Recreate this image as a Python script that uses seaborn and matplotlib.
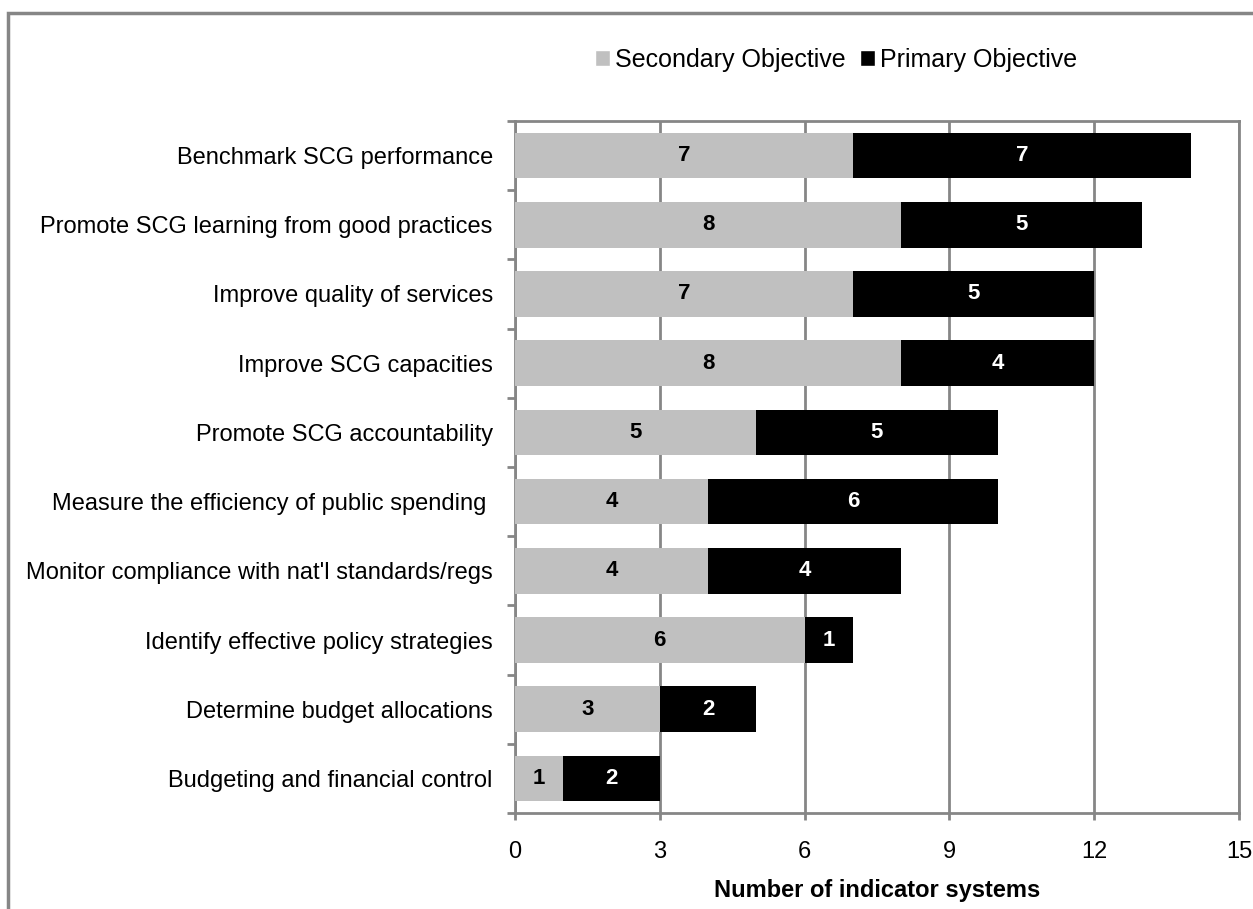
import matplotlib
matplotlib.use("Agg")
import matplotlib.pyplot as plt
import seaborn as sns
import pandas as pd
import numpy as np
from matplotlib.patches import Patch, Rectangle

categories = [
    "Benchmark SCG performance",
    "Promote SCG learning from good practices",
    "Improve quality of services",
    "Improve SCG capacities",
    "Promote SCG accountability",
    "Measure the efficiency of public spending ",
    "Monitor compliance with nat'l standards/regs",
    "Identify effective policy strategies",
    "Determine budget allocations",
    "Budgeting and financial control",
]
secondary = [7, 8, 7, 8, 5, 4, 4, 6, 3, 1]
primary = [7, 5, 5, 4, 5, 6, 4, 1, 2, 2]
x_ticks = [0, 3, 6, 9, 12, 15]

df = pd.DataFrame({"objective": categories, "secondary": secondary, "primary": primary})
df["total"] = df["secondary"] + df["primary"]

sns.set_style("white")
plt.rcParams["font.family"] = ["Liberation Sans", "DejaVu Sans"]
plt.rcParams["text.color"] = "black"
plt.rcParams["xtick.color"] = "black"
plt.rcParams["ytick.color"] = "black"
plt.rcParams["axes.labelcolor"] = "black"

grid_col = "#868686"
fig = plt.figure(figsize=(12.53, 9.09), dpi=100)
ax = fig.add_axes([515 / 1253, 1 - 813 / 909, (1239 - 515) / 1253, (813 - 121) / 909])

sns.barplot(data=df, y="objective", x="total", color="black", orient="h",
            width=0.66, ax=ax, saturation=1, zorder=3, linewidth=0)
sns.barplot(data=df, y="objective", x="secondary", color="#C0C0C0", orient="h",
            width=0.66, ax=ax, saturation=1, zorder=3, linewidth=0)

for i, (s, p) in enumerate(zip(secondary, primary)):
    ax.text(s / 2, i, str(s), ha="center", va="center", fontsize=16,
            fontweight="bold", color="black", zorder=4)
    ax.text(s + p / 2, i, str(p), ha="center", va="center", fontsize=16,
            fontweight="bold", color="white", zorder=4)

ax.set_xlim(0, 15)
ax.set_ylim(9.5, -0.5)
ax.set_xticks(x_ticks)
ax.set_xticklabels([str(t) for t in x_ticks], fontsize=17)
ax.xaxis.grid(True, color=grid_col, linewidth=2, zorder=0)
ax.set_axisbelow(True)
for sp in ax.spines.values():
    sp.set_visible(True)
    sp.set_color(grid_col)
    sp.set_linewidth(2)

ax.set_yticks(range(len(categories)))
ax.set_yticklabels(categories, fontsize=17)
ax.set_yticks(np.arange(-0.5, len(categories), 1), minor=True)
ax.tick_params(axis="y", which="major", left=False, length=0, pad=16)
ax.tick_params(axis="y", which="minor", left=True, length=6, width=2, color=grid_col, direction="out")
ax.tick_params(axis="x", bottom=True, length=5, width=2, color=grid_col, direction="out", pad=15)
ax.set_ylabel("")
ax.set_xlabel("Number of indicator systems", fontsize=17, fontweight="bold", labelpad=12)

handles = [Patch(facecolor="#C0C0C0", label="Secondary Objective"),
           Patch(facecolor="black", label="Primary Objective")]
fig.legend(handles=handles, loc="center", bbox_to_anchor=(836 / 1253, 1 - 60 / 909),
           ncol=2, frameon=False, fontsize=18, handlelength=0.6, handleheight=0.6,
           handletextpad=0.2, columnspacing=0.6)

# outer chart border (right and bottom edges fall outside the image)
fig.patches.append(Rectangle((8 / 1253, -0.01), 1.0, 1 - 13 / 909 + 0.01,
                             transform=fig.transFigure, fill=False,
                             edgecolor=grid_col, linewidth=2.5, clip_on=False))

fig.savefig("out.png", dpi=100)
